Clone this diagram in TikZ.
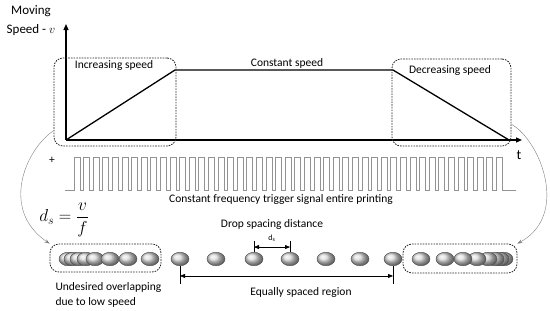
\documentclass[tikz,border=0pt]{standalone}
\usepackage{amsmath}
\usepackage{fontspec}
\setmainfont{Carlito}
\usetikzlibrary{arrows.meta, positioning, calc, shapes}

\begin{document}
\begin{tikzpicture}[x=1pt, y=-1pt, font=\fontsize{11.5}{15}\selectfont,
  zonebox/.style={draw=black!85, line width=0.8pt, dash pattern=on 1.6pt off 1.1pt, rounded corners=9pt, inner sep=0pt},
  drop/.style={ellipse, draw=black!70, ball color=gray!30, minimum width=18pt, minimum height=13.5pt, inner sep=0pt},
  guide/.style={draw=gray, thin, -{Stealth[length=5pt, width=3.5pt]}},
  dimtip/.style={{Triangle[length=5pt, width=4pt]}-{Triangle[length=5pt, width=4pt]}}]
  \useasboundingbox (0,0) rectangle (550,311);
  % axes
  \coordinate (O) at (66,140);
  \draw[line width=1.3pt, -{Triangle[length=6pt, width=5pt]}] (O) -- (66,24) coordinate (vtop);
  \draw[line width=1.3pt, -{Triangle[length=6pt, width=5pt]}] (O) -- (522,140) coordinate (tend);
  \node[align=center, font=\fontsize{13}{19}\selectfont] (vlabel) at (31,21) {Moving\\Speed - $v$};
  \node[font=\fontsize{14}{16}\selectfont] (tlabel) at (519,155) {t};
  % speed profile
  \coordinate (A) at (175,70);
  \coordinate (B) at (393,70);
  \coordinate (C) at (509,140);
  \draw[line width=1.3pt] (O) -- (A) -- (B) -- (C);
  \node[zonebox, minimum width=122pt, minimum height=88pt] (inc) at (115,102) {};
  \node[zonebox, minimum width=119pt, minimum height=87pt] (dec) at (451.5,102.5) {};
  \node (inctext) at (114,65) {Increasing speed};
  \node (consttext) at (287,63) {Constant speed};
  \node (dectext) at (450,70) {Decreasing speed};
  % trigger signal
  \node (plus) at (52,160) {+};
  \draw[gray!85, line width=0.7pt] (65,190)
    foreach \k in {0,...,44} { -- ({74+9.6*\k},190) -- ++(0,-33) -- ++(6,0) -- ++(0,33) } -- (516,190);
  \node (trigtext) at (281,199) {Constant frequency trigger signal entire printing};
  \node[font=\fontsize{18.5}{20}\selectfont] (formula) at (64,220) {$d_s=\dfrac{v}{f}$};
  % drops
  \node[zonebox, minimum width=111pt, minimum height=28pt] (lbox) at (105.5,258) {};
  \node[zonebox, minimum width=114pt, minimum height=29pt] (rbox) at (460,258.5) {};
  \foreach \x [count=\i] in {68,73,79,86,95,110,128,150}
    \node[drop] (L\i) at (\x,259) {};
  \foreach \x [count=\i] in {180,216,254,290,326,360,393}
    \node[drop] (M\i) at (\x,259) {};
  \foreach \x [count=\i] in {504,500,495,488,477,463,445,421}
    \node[drop] (R\i) at (\x,259) {};
  % drop spacing
  \node (spacetext) at (272,224) {Drop spacing distance};
  \draw (M3.north) -- ++(0,-11) coordinate (m3top);
  \draw (M4.north) -- ++(0,-11) coordinate (m4top);
  \draw[dimtip] ($(M3.north)+(0,-5)$) -- ($(M4.north)+(0,-5)$);
  \node[font=\fontsize{8}{9}\selectfont] (dslabel) at (272,238) {d\textsubscript{s}};
  % equally spaced region
  \draw (M1.south) -- ++(0,18) coordinate (m1bot);
  \draw (M7.south) -- ++(0,18) coordinate (m7bot);
  \draw[dimtip] ($(M1.south)+(0,10)$) -- ($(M7.south)+(0,10)$);
  \node (eqtext) at (301,292) {Equally spaced region};
  \node[align=left, anchor=west] (lowtext) at (52,295) {Undesired overlapping\\due to low speed};
  % zoom links
  \draw[guide] (inc.205) .. controls (25,150) and (0,210) .. (lbox.north west);
  \draw[guide] (dec.340) .. controls (540,140) and (570,215) .. (rbox.north east);
\end{tikzpicture}
\end{document}
